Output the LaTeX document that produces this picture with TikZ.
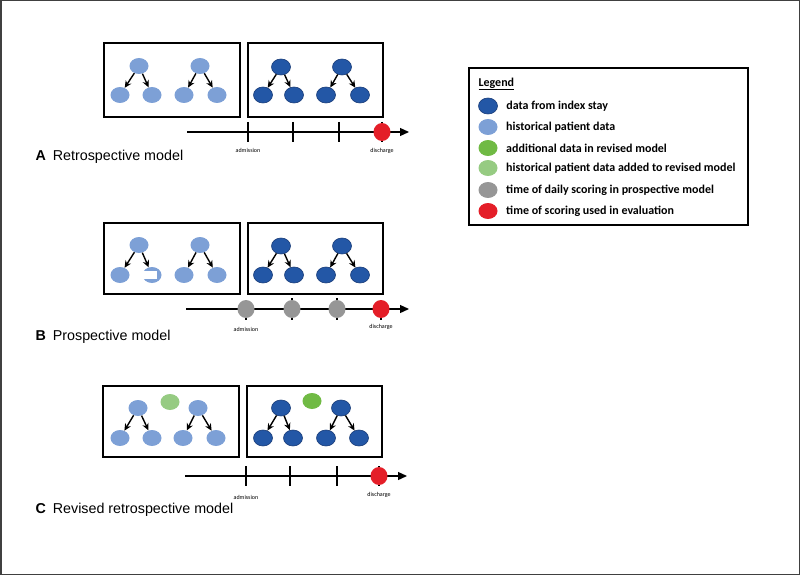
\documentclass[tikz,border=0pt]{standalone}
\usepackage{fontspec}
\setmainfont{Liberation Sans}
\newfontfamily\legendfont{Carlito}
\usepackage{xcolor}
\usetikzlibrary{shapes.geometric, arrows.meta, positioning, calc}

\definecolor{idxblue}{RGB}{35,87,166}
\definecolor{idxedge}{RGB}{25,60,120}
\definecolor{histblue}{RGB}{125,160,214}
\definecolor{addgreen}{RGB}{112,186,68}
\definecolor{histgreen}{RGB}{150,203,130}
\definecolor{scoregray}{RGB}{150,150,150}
\definecolor{evalred}{RGB}{228,30,40}

\tikzset{
  dot/.style={ellipse, minimum width=19pt, minimum height=16pt, inner sep=0pt},
  hist/.style={dot, fill=histblue},
  idx/.style={dot, fill=idxblue, draw=idxedge, line width=0.6pt},
  addg/.style={dot, fill=addgreen},
  histg/.style={dot, fill=histgreen},
  scoring/.style={dot, minimum width=17pt, minimum height=18pt, fill=scoregray},
  evaluation/.style={dot, minimum width=17pt, minimum height=18pt, fill=evalred},
  panelbox/.style={draw, line width=1.5pt},
  edge/.style={-{Stealth[length=7pt,width=6.5pt]}, line width=1.4pt},
  timeline/.style={-{Triangle[length=9pt,width=8pt]}, line width=1.3pt},
  tick/.style={line width=1.3pt},
  daylabel/.style={font=\legendfont\fontsize{6}{7}\selectfont},
  paneltitle/.style={anchor=west, font=\fontsize{14.3}{16}\selectfont},
  legendtext/.style={anchor=west, font=\legendfont\bfseries\fontsize{12}{14}\selectfont}
}

\begin{document}
\begin{tikzpicture}[x=1pt, y=-1pt]
  \useasboundingbox (0,0) rectangle (800,575);
  % outer frame
  \draw[line width=1.5pt, black!75] (0.75,0.75) rectangle (799.25,574.25);

  % ---------- A: retrospective model ----------
  \draw[panelbox] (104,43) rectangle (240,117);
  \draw[panelbox] (248,43) rectangle (383,117);
  \foreach \n/\t/\l/\r in {1/139/120/152, 2/200/184/217} {
    \node[hist] (A-h\n) at (\t,66) {};
    \node[hist] (A-h\n-l) at (\l,95) {};
    \node[hist] (A-h\n-r) at (\r,95) {};
    \draw[edge] (A-h\n) -- (A-h\n-l);
    \draw[edge] (A-h\n) -- (A-h\n-r);
  }
  \foreach \n/\t/\l/\r in {1/281/263/294, 2/342/326/360} {
    \node[idx] (A-i\n) at (\t,67) {};
    \node[idx] (A-i\n-l) at (\l,95) {};
    \node[idx] (A-i\n-r) at (\r,95) {};
    \draw[edge] (A-i\n) -- (A-i\n-l);
    \draw[edge] (A-i\n) -- (A-i\n-r);
  }
  % time axis
  \coordinate (A-start) at (187,132);
  \coordinate (A-end) at (409,132);
  \draw[timeline] (A-start) -- (A-end);
  \foreach \n/\x in {1/248, 2/293, 3/339, 4/382} {
    \coordinate (A-d\n) at (\x,132);
    \draw[tick] ($(A-d\n)+(0,-10)$) -- ($(A-d\n)+(0,10)$);
  }
  \node[evaluation] (A-dis) at (A-d4) {};
  \node[daylabel] (A-adm) at (248,150) {admission};
  \node[daylabel] (A-disl) at (382,151) {discharge};
  \node[paneltitle] (A-title) at (32,157) {\textbf{A}\hspace{7pt}Retrospective model};

  % ---------- B: prospective model ----------
  \draw[panelbox] (104,223) rectangle (240,294);
  \draw[panelbox] (248,223) rectangle (383,294);
  \foreach \n/\t/\l/\r in {1/139/120/152, 2/200/184/217} {
    \node[hist] (B-h\n) at (\t,245) {};
    \node[hist] (B-h\n-l) at (\l,275) {};
    \node[hist] (B-h\n-r) at (\r,275) {};
    \draw[edge] (B-h\n) -- (B-h\n-l);
    \draw[edge] (B-h\n) -- (B-h\n-r);
  }
  % partly missing record
  \fill[white] ($(B-h1-r)+(-10,-4)$) rectangle ($(B-h1-r)+(5,4)$);
  \foreach \n/\t/\l/\r in {1/281/263/294, 2/342/326/360} {
    \node[idx] (B-i\n) at (\t,246) {};
    \node[idx] (B-i\n-l) at (\l,275) {};
    \node[idx] (B-i\n-r) at (\r,275) {};
    \draw[edge] (B-i\n) -- (B-i\n-l);
    \draw[edge] (B-i\n) -- (B-i\n-r);
  }
  % time axis
  \coordinate (B-start) at (186,309);
  \coordinate (B-end) at (409,309);
  \draw[timeline] (B-start) -- (B-end);
  \draw[tick] (246,309) -- (246,320);
  \draw[tick] (292,298) -- (292,320);
  \draw[tick] (337,298) -- (337,320);
  \draw[tick] (381,309) -- (381,320);
  \foreach \n/\x in {1/246, 2/292, 3/337} {
    \node[scoring] (B-d\n) at (\x,309) {};
  }
  \node[evaluation] (B-dis) at (381,309) {};
  \node[daylabel] (B-adm) at (246,329) {admission};
  \node[daylabel] (B-disl) at (381,327) {discharge};
  \node[paneltitle] (B-title) at (32,337) {\textbf{B}\hspace{7pt}Prospective model};

  % ---------- C: revised retrospective model ----------
  \draw[panelbox] (103,386) rectangle (239,457);
  \draw[panelbox] (247,386) rectangle (382,457);
  \foreach \n/\t/\l/\r in {1/138/120/152, 2/198/183/216} {
    \node[hist] (C-h\n) at (\t,408) {};
    \node[hist] (C-h\n-l) at (\l,438) {};
    \node[hist] (C-h\n-r) at (\r,438) {};
    \draw[edge] (C-h\n) -- (C-h\n-l);
    \draw[edge] (C-h\n) -- (C-h\n-r);
  }
  \node[histg] (C-hg) at (170,402) {};
  \foreach \n/\t/\l/\r in {1/281/263/293, 2/341/326/359} {
    \node[idx] (C-i\n) at (\t,408) {};
    \node[idx] (C-i\n-l) at (\l,438) {};
    \node[idx] (C-i\n-r) at (\r,438) {};
    \draw[edge] (C-i\n) -- (C-i\n-l);
    \draw[edge] (C-i\n) -- (C-i\n-r);
  }
  \node[addg] (C-ig) at (312,401) {};
  % time axis
  \coordinate (C-start) at (185,476);
  \coordinate (C-end) at (407,476);
  \draw[timeline] (C-start) -- (C-end);
  \foreach \n/\x in {1/246, 2/290, 3/337, 4/379} {
    \coordinate (C-d\n) at (\x,476);
    \draw[tick] ($(C-d\n)+(0,-10)$) -- ($(C-d\n)+(0,10)$);
  }
  \node[evaluation] (C-dis) at (C-d4) {};
  \node[daylabel] (C-adm) at (246,497) {admission};
  \node[daylabel] (C-disl) at (379,495) {discharge};
  \node[paneltitle] (C-title) at (32,510) {\textbf{C}\hspace{7pt}Revised retrospective model};

  % ---------- legend ----------
  \draw[line width=1.5pt] (469,68) rectangle (748,225);
  \node[legendtext] (leg-title) at (475,84) {\underline{Legend}};
  \node[idx] (leg-1) at (488,106) {};
  \node[hist] (leg-2) at (488,127) {};
  \node[addg] (leg-3) at (488,148) {};
  \node[histg] (leg-4) at (488,168) {};
  \node[dot, fill=scoregray] (leg-5) at (488,190) {};
  \node[dot, fill=evalred] (leg-6) at (488,211) {};
  \node[legendtext, right=5pt of leg-1] {data from index stay};
  \node[legendtext, right=5pt of leg-2] {historical patient data};
  \node[legendtext, right=5pt of leg-3] {additional data in revised model};
  \node[legendtext, right=5pt of leg-4] {historical patient data added to revised model};
  \node[legendtext, right=5pt of leg-5] {time of daily scoring in prospective model};
  \node[legendtext, right=5pt of leg-6] {time of scoring used in evaluation};
\end{tikzpicture}
\end{document}
